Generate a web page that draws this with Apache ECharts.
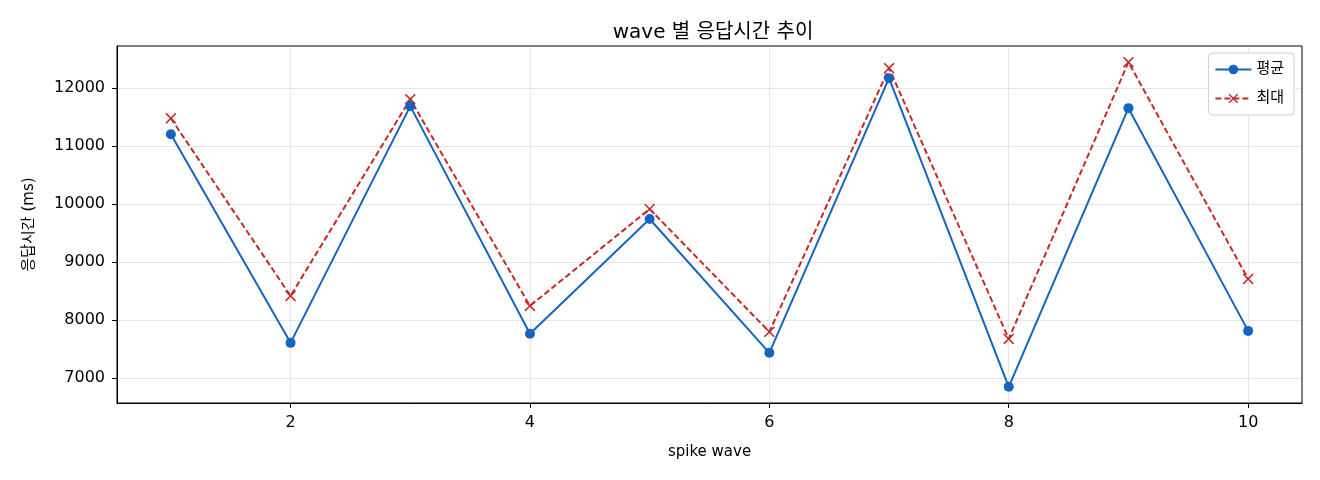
<!DOCTYPE html>
<html>
<head>
<meta charset="utf-8">
<script src="https://cdn.jsdelivr.net/npm/echarts@6/dist/echarts.min.js"></script>
<style>
html,body{margin:0;padding:0;background:#fff;}
#container{width:1320px;height:480px;}
</style>
</head>
<body>
<div id="container"></div>
<script>
var waves = [1, 2, 3, 4, 5, 6, 7, 8, 9, 10];
var avgMs = [11205, 7603, 11690, 7759, 9741, 7431, 12172, 6845, 11655, 7810];
var maxMs = [11480, 8414, 11810, 8241, 9914, 7793, 12345, 7672, 12448, 8707];
var xTicks = [2, 4, 6, 8, 10];
var yTicks = [7000, 8000, 9000, 10000, 11000, 12000];

var font = '"DejaVu Sans", "Noto Sans CJK KR", sans-serif';
var crossPath = 'path://M1,0 L5,4 L9,0 L10,1 L6,5 L10,9 L9,10 L5,6 L1,10 L0,9 L4,5 L0,1 Z';

function pairs(xs, ys) {
	var out = [];
	for (var i = 0; i < xs.length; i++) {
		out.push([xs[i], ys[i]]);
	}
	return out;
}

var myChart = echarts.init(document.getElementById('container'));
myChart.setOption({
	backgroundColor: '#FFFFFF',
	animation: false,
	textStyle: {fontFamily: font},
	title: {
		text: 'wave 별 응답시간 추이',
		left: 708,
		textAlign: 'center',
		top: 18,
		textStyle: {fontFamily: font, fontSize: 20, fontWeight: 'normal', color: '#000'}
	},
	legend: {
		right: 26,
		top: 53,
		orient: 'vertical',
		itemGap: 14,
		itemWidth: 36,
		itemHeight: 12,
		padding: [9, 10, 9, 6],
		backgroundColor: '#fff',
		borderColor: '#d0d0d0',
		borderWidth: 1,
		borderRadius: 4,
		textStyle: {fontFamily: font, fontSize: 15, color: '#000'},
		data: ['평균', '최대']
	},
	grid: {left: 117, right: 18, top: 46, bottom: 77, containLabel: false},
	xAxis: {
		type: 'value',
		min: 0.55,
		max: 10.45,
		name: 'spike wave',
		nameLocation: 'middle',
		nameGap: 42,
		nameTextStyle: {fontFamily: font, fontSize: 15, color: '#000'},
		axisLine: {show: true, onZero: false, lineStyle: {color: '#000', width: 1}},
		axisTick: {show: true, length: 5, lineStyle: {color: '#000'}, customValues: xTicks},
		axisLabel: {fontFamily: font, fontSize: 16, color: '#000', margin: 12, customValues: xTicks},
		splitLine: {show: true, lineStyle: {color: '#e6e6e6', width: 1}}
	},
	yAxis: {
		type: 'value',
		min: 6565,
		max: 12728,
		name: '응답시간 (ms)',
		nameLocation: 'middle',
		nameGap: 80,
		nameTextStyle: {fontFamily: font, fontSize: 15, color: '#000'},
		axisLine: {show: true, lineStyle: {color: '#000', width: 1}},
		axisTick: {show: true, length: 5, lineStyle: {color: '#000'}, customValues: yTicks},
		axisLabel: {
			fontFamily: font, fontSize: 16, color: '#000', margin: 12, customValues: yTicks,
			formatter: function (value) { return String(value); }
		},
		splitLine: {show: true, lineStyle: {color: '#e6e6e6', width: 1}}
	},
	series: [
		{
			name: '평균',
			type: 'line',
			data: pairs(waves, avgMs),
			symbol: 'circle',
			symbolSize: 10,
			color: '#1565C0',
			lineStyle: {color: '#1565C0', width: 2},
			itemStyle: {color: '#1565C0'},
			z: 3
		},
		{
			name: '최대',
			type: 'line',
			data: pairs(waves, maxMs),
			symbol: crossPath,
			symbolSize: 11,
			color: '#C62828',
			lineStyle: {color: '#C62828', width: 2, type: [6, 3]},
			itemStyle: {color: '#C62828'},
			z: 2
		}
	]
});
// 오른쪽/위쪽 테두리
myChart.setOption({
	graphic: [{
		type: 'rect',
		shape: {x: 117, y: 46, width: 1185, height: 357},
		style: {fill: 'none', stroke: '#000', lineWidth: 1},
		silent: true,
		z: 0
	}]
});
</script>
</body>
</html>
